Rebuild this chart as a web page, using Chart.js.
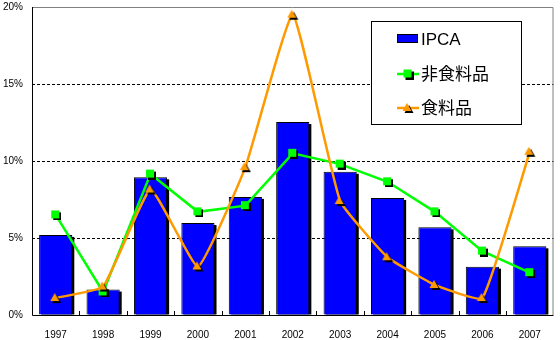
<!DOCTYPE html>
<html>
<head>
<meta charset="utf-8">
<script src="https://cdn.jsdelivr.net/npm/chart.js@4"></script>
<style>
  body { margin: 0; background: #fff; }
  #wrap { width: 560px; height: 340px; }
</style>
</head>
<body>
<div id="wrap"><canvas id="myChart" width="560" height="340"></canvas></div>
<script>
const years = ['1997', '1998', '1999', '2000', '2001', '2002', '2003', '2004', '2005', '2006', '2007'];
const ipca = [5.2, 1.65, 8.94, 5.97, 7.67, 12.53, 9.3, 7.6, 5.69, 3.14, 4.46];
const nonFood = [6.5, 1.5, 9.15, 6.7, 7.1, 10.5, 9.8, 8.65, 6.7, 4.15, 2.75];
const food = [1.1, 1.85, 8.15, 3.15, 9.6, 19.5, 7.4, 3.75, 1.95, 1.1, 10.6];
const yTicks = [0, 5, 10, 15, 20];
const seriesNames = ['IPCA', '非食料品', '食料品'];

const BLUE = '#0000ff';
const GREEN = '#00ff00';
const ORANGE = '#ff9900';

// markers with a small black drop shadow baked in
function squareMarker() {
    const c = document.createElement('canvas');
    c.width = 11; c.height = 11;
    const g = c.getContext('2d');
    g.fillStyle = '#000';
    g.fillRect(3, 3, 8, 8);
    g.fillStyle = GREEN;
    g.fillRect(1, 1, 8, 8);
    return c;
}
function triangleMarker() {
    const c = document.createElement('canvas');
    c.width = 12; c.height = 12;
    const g = c.getContext('2d');
    const tri = (dx, dy, col) => {
        g.beginPath();
        g.moveTo(5 + dx, 1 + dy);
        g.lineTo(9.5 + dx, 9 + dy);
        g.lineTo(0.5 + dx, 9 + dy);
        g.closePath();
        g.fillStyle = col;
        g.fill();
    };
    tri(2, 2, '#000');
    tri(0, 0, ORANGE);
    return c;
}
const sqImg = squareMarker();
const triImg = triangleMarker();

// frame, inner category ticks, bar shadows and legend
const decor = {
    id: 'decor',
    beforeDatasetsDraw(chart) {
        const { ctx, chartArea: a, scales } = chart;
        ctx.save();
        ctx.lineWidth = 1;
        ctx.strokeStyle = '#808080';
        ctx.beginPath();
        ctx.moveTo(a.left, a.top + 0.5);
        ctx.lineTo(a.right - 0.5, a.top + 0.5);
        ctx.lineTo(a.right - 0.5, a.bottom);
        ctx.stroke();
        ctx.strokeStyle = '#000';
        ctx.beginPath();
        ctx.moveTo(a.left + 0.5, a.top);
        ctx.lineTo(a.left + 0.5, a.bottom + 0.5);
        ctx.lineTo(a.right, a.bottom + 0.5);
        ctx.stroke();
        const xs = scales.x;
        ctx.beginPath();
        for (let i = 0; i < years.length - 1; i++) {
            const x = Math.round((xs.getPixelForValue(i) + xs.getPixelForValue(i + 1)) / 2) + 0.5;
            ctx.moveTo(x, a.bottom);
            ctx.lineTo(x, a.bottom - 4);
        }
        ctx.stroke();
        ctx.restore();
    },
    beforeDatasetDraw(chart, args) {
        if (args.index !== 0) return;
        const { ctx, chartArea: a } = chart;
        ctx.save();
        ctx.fillStyle = '#000';
        args.meta.data.forEach(bar => {
            const p = bar.getProps(['x', 'y', 'base', 'width'], true);
            ctx.fillRect(p.x - p.width / 2 + 2, p.y + 2, p.width, Math.min(p.base, a.bottom) - p.y - 2);
        });
        ctx.restore();
    },
    afterDraw(chart) {
        const ctx = chart.ctx;
        ctx.save();
        ctx.fillStyle = '#fff';
        ctx.fillRect(371, 21, 150, 103);
        ctx.strokeStyle = '#000';
        ctx.lineWidth = 1;
        ctx.strokeRect(371.5, 21.5, 150, 103);

        const rows = [39, 74, 108];
        // IPCA swatch
        ctx.fillStyle = BLUE;
        ctx.fillRect(397, 34, 21, 9);
        ctx.strokeStyle = '#000';
        ctx.strokeRect(397.5, 34.5, 20, 8);
        // line swatches
        ctx.lineWidth = 2.5;
        ctx.strokeStyle = GREEN;
        ctx.beginPath(); ctx.moveTo(397, rows[1]); ctx.lineTo(419, rows[1]); ctx.stroke();
        ctx.drawImage(sqImg, 408 - 5.5, rows[1] - 5.5);
        ctx.strokeStyle = ORANGE;
        ctx.beginPath(); ctx.moveTo(397, rows[2]); ctx.lineTo(419, rows[2]); ctx.stroke();
        ctx.drawImage(triImg, 408 - 6, rows[2] - 6);

        ctx.fillStyle = '#000';
        ctx.font = '17px "Liberation Sans", "Noto Sans CJK JP"';
        ctx.textBaseline = 'middle';
        seriesNames.forEach((n, i) => ctx.fillText(n, 421, rows[i] + 1));
        ctx.restore();
    }
};

const ctx = document.getElementById('myChart');
const myChart = new Chart(ctx, {
    type: 'bar',
    data: {
        labels: years,
        datasets: [{
            label: seriesNames[0],
            data: ipca,
            backgroundColor: BLUE,
            borderColor: '#000',
            borderWidth: 1,
            barPercentage: 0.7,
            categoryPercentage: 1,
            order: 3,
            clip: { left: 5, top: 5, right: 5, bottom: 0 }
        },
        {
            type: 'line',
            label: seriesNames[1],
            data: nonFood,
            borderColor: GREEN,
            borderWidth: 2.5,
            tension: 0,
            pointStyle: sqImg,
            order: 2
        },
        {
            type: 'line',
            label: seriesNames[2],
            data: food,
            borderColor: ORANGE,
            borderWidth: 2.5,
            tension: 0.12,
            pointStyle: triImg,
            order: 1
        }
    ]
    },
    options: {
        responsive: false,
        animation: false,
        layout: {
            padding: { left: 0, top: 0, right: 4, bottom: 0 }
        },
        scales: {
            x: {
                grid: { display: false },
                border: { display: false },
                ticks: {
                    color: '#000',
                    padding: 6,
                    font: { family: '"Liberation Sans"', size: 10 }
                },
                afterFit: s => { s.height = 25; }
            },
            y: {
                min: 0,
                max: 20,
                afterBuildTicks: s => { s.ticks = yTicks.map(v => ({ value: v })); },
                grid: {
                    drawTicks: true,
                    tickLength: 8,
                    tickColor: 'rgba(0,0,0,0)',
                    color: c => (c.tick.value === 0 || c.tick.value === 20) ? 'rgba(0,0,0,0)' : '#000'
                },
                border: { display: false, dash: [3, 2] },
                ticks: {
                    color: '#000',
                    padding: 1,
                    font: { family: '"Liberation Sans"', size: 10 },
                    callback: v => v + '%'
                },
                afterFit: s => { s.width = 32; }
            }
        },
        plugins: {
            legend: false,
            tooltip: { enabled: false }
        }
    },
    plugins: [decor]
});
</script>
</body>
</html>
